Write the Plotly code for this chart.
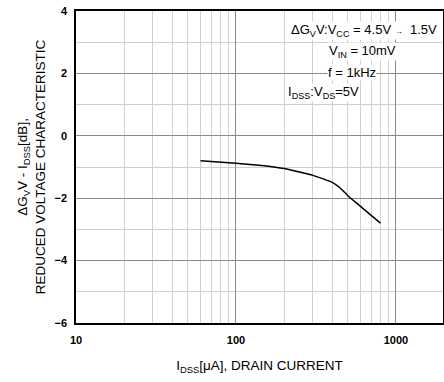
import plotly.graph_objects as go

idss = [60, 100, 150, 200, 300, 400, 450, 500, 600, 700, 800]
dgv = [-0.80, -0.88, -0.96, -1.05, -1.26, -1.49, -1.68, -1.92, -2.26, -2.55, -2.80]

x_ticks = [10, 100, 1000]
x_ticklabels = ["10", "100", "1000"]
y_ticks = [-6, -4, -2, 0, 2, 4]

notes = [
    "ΔG<sub>V</sub>V:V<sub>CC</sub> = 4.5V <span style='font-size:8px'>→</span>  1.5V",
    "V<sub>IN</sub> = 10mV",
    "f = 1kHz",
    "I<sub>DSS</sub>:V<sub>DS</sub>=5V",
]

FONT = "Liberation Sans, Arial, sans-serif"

fig = go.Figure()
fig.add_trace(go.Scatter(x=idss, y=dgv, mode="lines",
                         line=dict(color="black", width=1.5, shape="spline", smoothing=0.3),
                         showlegend=False, hoverinfo="skip"))

fig.update_xaxes(type="log", range=[1, 3.294], automargin=False,
                 tickvals=x_ticks, ticktext=x_ticklabels,
                 tickfont=dict(family=FONT, size=11, color="black", weight="bold"),
                 showgrid=True, gridcolor="#8a8a8a", gridwidth=1,
                 minor=dict(dtick="D1", showgrid=True, gridcolor="#cfcfcf", gridwidth=1, ticks=""),
                 showline=True, linecolor="black", linewidth=1.5, mirror=True,
                 ticks="", zeroline=False, ticklabelstandoff=6,
                 title=dict(text="I<sub>DSS</sub>[μA], DRAIN CURRENT",
                            font=dict(family=FONT, size=13.5, color="black"), standoff=16))
fig.update_yaxes(range=[-6, 4], tickvals=y_ticks, automargin=False,
                 tickfont=dict(family=FONT, size=11, color="black", weight="bold"),
                 showgrid=True, gridcolor="#8a8a8a", gridwidth=1,
                 minor=dict(dtick=1, showgrid=True, gridcolor="#cfcfcf", gridwidth=1, ticks=""),
                 showline=True, linecolor="black", linewidth=1.5, mirror=True,
                 ticks="", zeroline=False, ticklabelstandoff=5,
                 title=dict(text="ΔG<sub>V</sub>V - I<sub>DSS</sub>[dB],<br>REDUCED VOLTAGE CHARACTERISTIC",
                            font=dict(family=FONT, size=13.5, color="black"), standoff=6))

ann_y = [0.936, 0.869, 0.804, 0.740]
ann_x = [0.986, 0.687, 0.684, 0.575]
ann_anchor = ["right", "left", "left", "left"]
for t, yy, xx, a in zip(notes, ann_y, ann_x, ann_anchor):
    fig.add_annotation(text=t, xref="paper", yref="paper", x=xx, y=yy,
                       xanchor=a, yanchor="middle", showarrow=False,
                       font=dict(family=FONT, size=13, color="black"),
                       bgcolor="white", borderpad=0)

fig.update_layout(width=444, height=382, margin=dict(l=76, r=1, t=11, b=59),
                  paper_bgcolor="white", plot_bgcolor="white")
fig.write_html("out.html", config={"displayModeBar": False},
               post_script="document.body.style.margin='0';document.body.style.padding='0';")
